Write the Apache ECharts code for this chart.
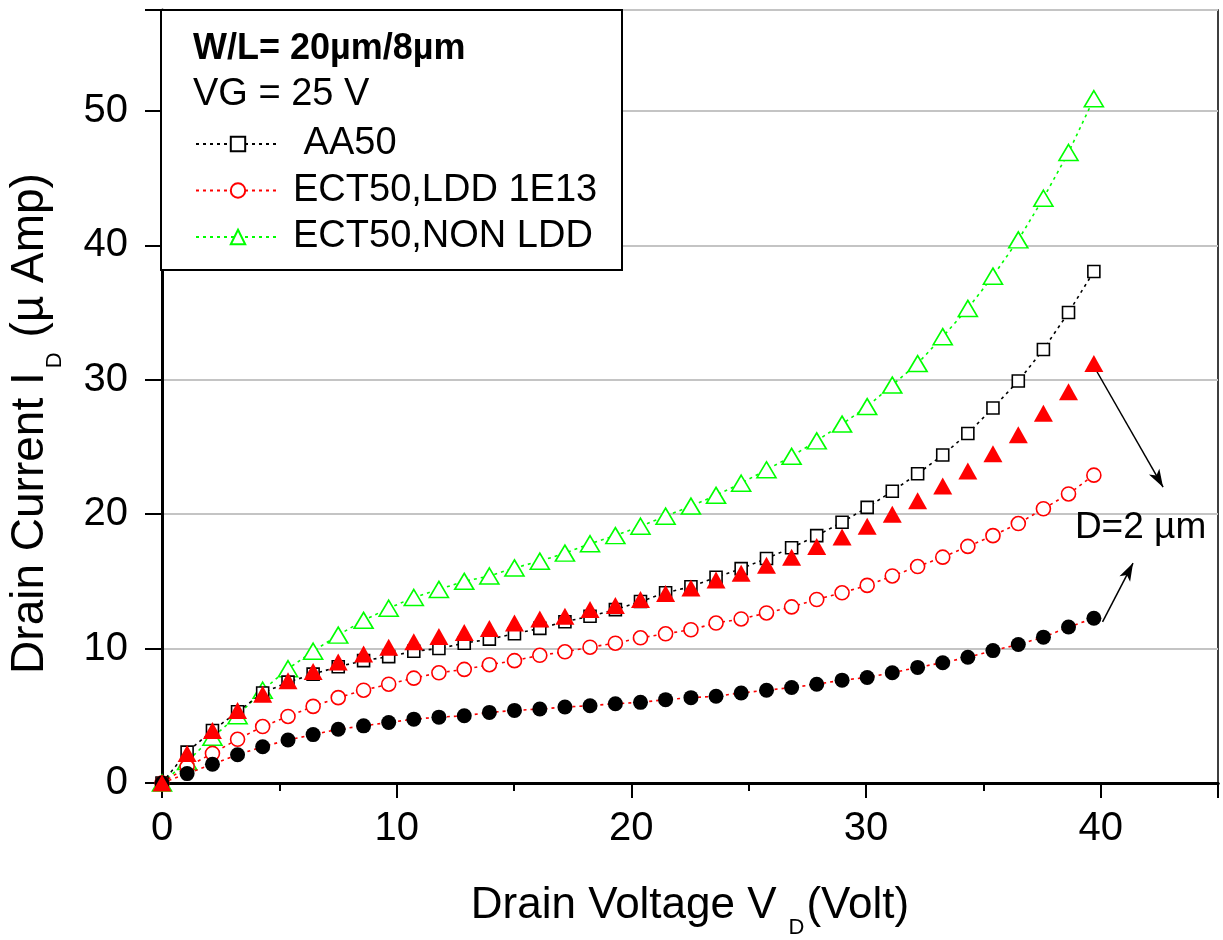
<!DOCTYPE html>
<html>
<head>
<meta charset="utf-8">
<script src="https://cdn.jsdelivr.net/npm/echarts@6/dist/echarts.min.js"></script>
<style>
html,body{margin:0;padding:0;background:#fff;}
#chart{width:1223px;height:940px;}
</style>
</head>
<body>
<div id="chart"></div>
<script>
// Drain voltage (V)
var vd = [0, 1.07, 2.15, 3.22, 4.29, 5.37, 6.44, 7.51, 8.59, 9.66, 10.73, 11.8, 12.88, 13.95, 15.02, 16.1, 17.17, 18.24, 19.32, 20.39, 21.46, 22.54, 23.61, 24.68, 25.76, 26.83, 27.9, 28.98, 30.05, 31.12, 32.2, 33.27, 34.34, 35.41, 36.49, 37.56, 38.63, 39.71];
// Drain current (uA)
var aa50 = [0, 2.3, 3.9, 5.3, 6.7, 7.5, 8.1, 8.65, 9.1, 9.4, 9.8, 10.0, 10.4, 10.7, 11.1, 11.5, 12.0, 12.4, 12.9, 13.5, 14.15, 14.6, 15.3, 15.95, 16.7, 17.5, 18.4, 19.4, 20.5, 21.7, 23.0, 24.4, 26.0, 27.9, 29.9, 32.25, 35.0, 38.05];
var ldd = [0, 1.2, 2.2, 3.25, 4.2, 4.95, 5.7, 6.35, 6.9, 7.35, 7.8, 8.2, 8.45, 8.8, 9.1, 9.5, 9.76, 10.1, 10.4, 10.8, 11.1, 11.4, 11.9, 12.2, 12.65, 13.1, 13.65, 14.15, 14.7, 15.4, 16.1, 16.8, 17.6, 18.4, 19.3, 20.4, 21.5, 22.9];
var nonLdd = [0, 1.6, 3.4, 5.0, 6.9, 8.5, 9.8, 11.0, 12.1, 13.0, 13.8, 14.4, 15.0, 15.4, 16.0, 16.5, 17.1, 17.8, 18.4, 19.1, 19.85, 20.6, 21.4, 22.3, 23.3, 24.3, 25.45, 26.7, 28.0, 29.6, 31.2, 33.2, 35.3, 37.7, 40.4, 43.5, 46.9, 50.9];
var nonLddD2 = [0, 2.2, 3.9, 5.4, 6.6, 7.6, 8.3, 9.0, 9.6, 10.1, 10.5, 10.9, 11.2, 11.5, 11.9, 12.2, 12.4, 12.9, 13.2, 13.65, 14.1, 14.5, 15.1, 15.6, 16.2, 16.8, 17.6, 18.3, 19.1, 20.0, 21.0, 22.1, 23.2, 24.5, 25.9, 27.5, 29.1, 31.2];
var lddD2 = [0, 0.7, 1.4, 2.1, 2.7, 3.2, 3.6, 4.0, 4.25, 4.5, 4.75, 4.9, 5.0, 5.25, 5.4, 5.5, 5.65, 5.75, 5.9, 6.0, 6.2, 6.35, 6.45, 6.7, 6.9, 7.1, 7.35, 7.65, 7.85, 8.2, 8.6, 8.95, 9.35, 9.85, 10.3, 10.85, 11.6, 12.25];
// Annotation (data coords)
var arrowUpper = [[39.71, 31.0], [42.66, 22.0]];
var arrowLower = [[40.08, 11.98], [41.38, 16.36]];
var annoPos = [41.7, 18.96];
var annoText = 'D=2 µm';
var legendNames = ['AA50', 'ECT50,LDD 1E13', 'ECT50,NON LDD'];

function pairs(ys){ return vd.map(function(x,i){ return [x, ys[i]]; }); }

var FONT = '"Liberation Sans", Arial, Helvetica, sans-serif';
var chart = echarts.init(document.getElementById('chart'), null, {renderer:'canvas'});
var dotted = [3, 4];

var option = {
  animation: false,
  backgroundColor: '#fff',
  textStyle: {fontFamily: FONT},
  grid: {left: 162, right: 5, top: 10, bottom: 157, containLabel: false, outerBoundsMode: 'none',
         show: true, borderColor: '#000', borderWidth: 1.5, backgroundColor: 'transparent'},
  legend: {
    data: legendNames,
    orient: 'vertical',
    left: 195, top: 124,
    padding: 0,
    itemWidth: 84, itemHeight: 18, itemGap: 6.5,
    selectedMode: false,
    z: 6,
    formatter: function(n){ return n === 'AA50' ? ' AA50' : n; },
    textStyle: {fontFamily: FONT, fontSize: 38, color: '#000', lineHeight: 40, padding: [0,0,0,8]}
  },
  xAxis: [{
    type: 'value', min: 0, max: 45, interval: 5, position: 'bottom',
    axisLine: {show: true, lineStyle: {color: '#000', width: 3}},
    axisTick: {show: true, length: 8, lineStyle: {color: '#000', width: 2}},
    axisLabel: {show: false},
    splitLine: {show: false}
  }, {
    type: 'value', min: 0, max: 45, interval: 10, position: 'bottom',
    axisLine: {show: true, lineStyle: {color: '#000', width: 3}},
    axisTick: {show: true, length: 15, lineStyle: {color: '#000', width: 2}},
    axisLabel: {show: true, margin: 26, fontSize: 40, color: '#000', fontFamily: FONT,
      formatter: function(v){ return v > 40 ? '' : String(v); }},
    splitLine: {show: false},
    name: '{a|Drain Voltage V}{s|D}{a|(Volt)}',
    nameLocation: 'middle', nameGap: 90,
    nameTextStyle: {rich: {
      a: {fontFamily: FONT, fontSize: 44, color: '#000', lineHeight: 66},
      s: {fontFamily: FONT, fontSize: 22, color: '#000', lineHeight: 20, verticalAlign: 'bottom', padding: [0, 2, 0, 12]}
    }}
  }],
  yAxis: {
    type: 'value', min: 0, max: 57.5, interval: 10,
    axisLine: {show: true, lineStyle: {color: '#000', width: 3}},
    axisTick: {show: true, length: 17, lineStyle: {color: '#000', width: 2}},
    axisLabel: {margin: 34, fontSize: 40, color: '#000', fontFamily: FONT,
      formatter: function(v){ return v > 50 ? '' : String(v); }},
    splitLine: {show: true, lineStyle: {color: '#c4c4c4', width: 2}},
    name: '{a|Drain Current I}{s|D}{a| (µ Amp)}',
    nameLocation: 'middle', nameGap: 96,
    nameTextStyle: {padding: [0, 54, 0, 0], rich: {
      a: {fontFamily: FONT, fontSize: 46, color: '#000', lineHeight: 72},
      s: {fontFamily: FONT, fontSize: 22, color: '#000', lineHeight: 22, verticalAlign: 'bottom', padding: [0, 2, 0, 4]}
    }}
  },
  graphic: [
    {type: 'rect', z: 3, shape: {x: 161, y: 10, width: 461, height: 260},
     style: {fill: '#fff', stroke: '#000', lineWidth: 2}},
    {type: 'text', z: 5, style: {text: 'W/L= 20µm/8µm', x: 193, y: 49, font: 'bold 36px ' + FONT, fill: '#000', align: 'left', verticalAlign: 'middle'}},
    {type: 'text', z: 5, style: {text: 'VG = 25 V', x: 193, y: 95, font: '38px ' + FONT, fill: '#000', align: 'left', verticalAlign: 'middle'}}
  ],
  series: [
    {name: 'ECT50,NON LDD', type: 'line', z: 2, data: pairs(nonLdd), symbol: 'triangle', symbolSize: [19, 16],
     itemStyle: {color: '#fff', borderColor: '#00ff00', borderWidth: 1.6},
     lineStyle: {color: '#00ff00', width: 1.6, type: dotted}},
    {name: 'AA50', type: 'line', z: 3, data: pairs(aa50), symbol: 'rect', symbolSize: 12,
     itemStyle: {color: '#fff', borderColor: '#000', borderWidth: 1.6},
     lineStyle: {color: '#000', width: 1.6, type: dotted}},
    {name: 'ECT50,LDD 1E13', type: 'line', z: 3, data: pairs(ldd), symbol: 'circle', symbolSize: 14,
     itemStyle: {color: '#fff', borderColor: '#ff0000', borderWidth: 1.6},
     lineStyle: {color: '#ff0000', width: 1.6, type: dotted}},
    {name: 'ECT50,LDD D=2', type: 'line', z: 4, data: pairs(lddD2), symbol: 'circle', symbolSize: 15,
     itemStyle: {color: '#000', borderColor: '#000', borderWidth: 0},
     lineStyle: {color: '#ff0000', width: 1.6, type: dotted},
     markLine: {silent: true, symbol: ['none', 'arrow'], symbolSize: [9, 18], label: {show: false},
       lineStyle: {color: '#000', width: 1.5, type: 'solid'},
       data: [
         [{coord: arrowUpper[0]}, {coord: arrowUpper[1]}],
         [{coord: arrowLower[0]}, {coord: arrowLower[1]}]
       ]},
     markPoint: {silent: true, symbol: 'circle', symbolSize: 1, itemStyle: {color: 'transparent'},
       label: {show: true, position: 'inside', formatter: annoText, fontFamily: FONT, fontSize: 37, color: '#000'},
       data: [{coord: annoPos}]}
    },
    {name: 'ECT50,NON LDD D=2', type: 'scatter', z: 5, data: pairs(nonLddD2), symbol: 'triangle', symbolSize: [19, 17],
     itemStyle: {color: '#ff0000', opacity: 1}}
  ]
};
chart.setOption(option);
</script>
</body>
</html>
